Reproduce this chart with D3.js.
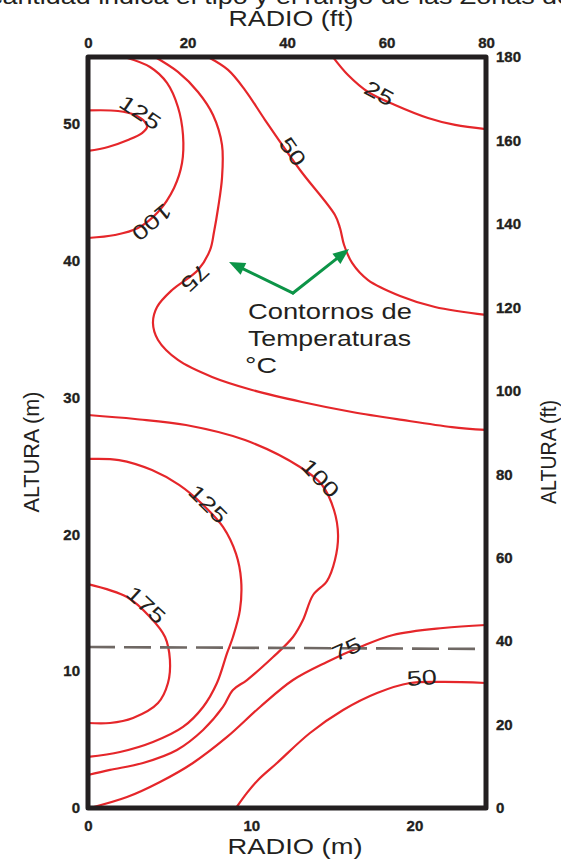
<!DOCTYPE html>
<html>
<head>
<meta charset="utf-8">
<script src="https://cdn.jsdelivr.net/npm/d3@7"></script>
<style>
  html, body { margin: 0; padding: 0; background: #fff; }
  svg { display: block; }
</style>
</head>
<body>
<svg id="chart" width="561" height="863"></svg>
<script>
// ---- axis ticks ----
const radiusTicksM  = [0, 10, 20];
const radiusTicksFt = [0, 20, 40, 60, 80];
const heightTicksM  = [0, 10, 20, 30, 40, 50];
const heightTicksFt = [0, 20, 40, 60, 80, 100, 120, 140, 160, 180];

const FT = 0.3048;            // metres per foot
const radiusMaxFt = 80;
const heightMaxFt = 180;

// ---- isotherms (°C), points as [radius m, height m] ----
const iso125Top = [[0,50.96],[1.84,50.92],[2.88,50.63],[3.49,50.12],[3.62,49.75],[3.31,49.31],[2.45,48.80],[1.23,48.29],[0,48.00]];
const iso100Top = [[2.21,54.86],[3.80,54.13],[4.84,52.97],[5.51,51.21],[5.82,49.17],[5.76,47.12],[5.27,45.30],[4.29,43.54],[3.06,42.37],[1.65,41.86],[0,41.64]];
const iso75Top  = [[4.11,54.86],[5.51,53.77],[6.74,52.31],[7.66,50.63],[8.21,48.44],[8.21,46.03],[7.97,43.83],[7.72,42.08],[7.48,40.77],[6.74,39.30],[5.15,37.84],[4.23,36.60],[3.98,35.43],[4.29,34.19],[5.51,32.73],[7.60,31.49],[10.05,30.54],[13.11,29.66],[16.18,28.93],[19.24,28.35],[22.30,27.83],[24.38,27.62]];
const iso50Top  = [[7.35,54.86],[8.58,53.92],[9.62,52.45],[10.85,50.26],[12.99,46.61],[15.13,43.32],[15.44,42.37],[15.69,41.13],[16.18,39.82],[17.16,38.57],[19.12,37.41],[21.26,36.60],[24.38,36.02]];
const iso25     = [[15.01,54.86],[15.93,53.55],[17.16,52.31],[18.81,51.36],[20.83,50.41],[22.49,49.90],[24.38,49.60]];
const iso100Low = [[0,28.71],[2.88,28.42],[6.00,27.98],[9.62,26.88],[12.99,24.91],[14.34,23.60],[15.07,21.77],[15.32,19.94],[15.13,18.12],[14.64,16.58],[13.79,15.56],[13.17,13.73],[12.56,12.49],[11.34,11.03],[9.74,9.35],[8.88,8.62],[8.27,7.38],[7.05,5.70],[5.45,4.24],[3.37,3.29],[1.35,2.78],[0,2.41]];
const iso125Low = [[0,25.50],[1.90,25.42],[3.92,24.69],[5.58,23.60],[6.99,22.21],[8.27,20.53],[9.07,18.56],[9.38,16.66],[9.31,14.47],[8.88,12.49],[8.52,11.32],[7.90,9.13],[7.05,7.38],[5.82,5.92],[3.98,4.82],[1.96,4.09],[0,3.73]];
const iso175    = [[0,16.36],[2.39,15.41],[3.80,13.95],[4.72,12.49],[5.02,10.81],[4.90,9.13],[4.29,7.67],[2.76,6.58],[1.35,6.21],[0,6.21]];
const iso75Low  = [[0.12,0],[2.39,0.80],[4.41,1.90],[6.43,3.29],[8.52,5.19],[10.54,7.38],[12.56,9.35],[14.64,10.67],[16.67,11.76],[18.69,12.64],[21.75,13.15],[24.38,13.37]];
const iso50Low  = [[9.07,0],[9.74,1.10],[10.42,2.05],[11.58,3.29],[13.60,5.48],[15.63,7.16],[17.71,8.40],[19.73,9.13],[21.75,9.21],[24.38,9.13]];

// contour value labels: level, the line it sits on, and where along it
const contourLabels = [
  { level: 125, line: iso125Top, r: 3.06,  h: 50.55 },
  { level: 100, line: iso100Top, r: 3.74,  h: 43.03 },
  { level: 75,  line: iso75Top,  r: 6.37,  h: 38.94 },
  { level: 50,  line: iso50Top,  r: 12.32, h: 47.78 },
  { level: 25,  line: iso25,     r: 17.71, h: 51.94 },
  { level: 100, line: iso100Low, r: 14.03, h: 23.89 },
  { level: 125, line: iso125Low, r: 7.17,  h: 21.99 },
  { level: 175, line: iso175,    r: 3.37,  h: 14.61 },
  { level: 75,  line: iso75Low,  r: 15.93, h: 11.32 },
  { level: 50,  line: iso50Low,  r: 20.47, h: 9.20 }
];

// horizontal reference level (dashed), [radius m, height m]
const referenceLevel = [[0, 11.76], [24.384, 11.62]];

// callout arrows pointing at two isotherms
const calloutVertex = [12.56, 37.62];
const calloutTips   = [[8.64, 39.89], [15.99, 40.84]];
const calloutText   = ["Contornos de", "Temperaturas", "°C"];

// ---- layout ----
const box = { left: 88, right: 486, top: 57, bottom: 808 };
const ink = "#231f20";
const red = "#e5262a";
const green = "#0c9447";

const x   = d3.scaleLinear().domain([0, radiusMaxFt * FT]).range([box.left, box.right]);
const y   = d3.scaleLinear().domain([0, heightMaxFt * FT]).range([box.bottom, box.top]);
const xFt = d3.scaleLinear().domain([0, radiusMaxFt]).range([box.left, box.right]);
const yFt = d3.scaleLinear().domain([0, heightMaxFt]).range([box.bottom, box.top]);

const svg = d3.select("#chart");
const font = "'Liberation Sans', Arial, sans-serif";

// running text of the page above the figure (cut by the top edge)
svg.append("text")
  .attr("x", -11).attr("y", 4)
  .attr("textLength", 583).attr("lengthAdjust", "spacingAndGlyphs")
  .style("font-family", font).style("font-size", "22px").attr("fill", ink)
  .text("cantidad indica el tipo y el rango de las Zonas de");

// ---- isotherm lines ----
const isotherms = [iso125Top, iso100Top, iso75Top, iso50Top, iso25,
                   iso100Low, iso125Low, iso175, iso75Low, iso50Low];
const line = d3.line()
  .x(d => x(d[0])).y(d => y(d[1]))
  .curve(d3.curveCatmullRom.alpha(0.5));

svg.append("g").selectAll("path")
  .data(isotherms).join("path")
  .attr("d", line)
  .attr("fill", "none")
  .attr("stroke", red)
  .attr("stroke-width", 2.2);

// dashed reference level
svg.append("path")
  .attr("d", d3.line().x(d => x(d[0])).y(d => y(d[1]))(referenceLevel))
  .attr("fill", "none")
  .attr("stroke", "#6f6864")
  .attr("stroke-width", 2.6)
  .attr("stroke-dasharray", "27,9");

// frame
svg.append("rect")
  .attr("x", box.left).attr("y", box.top)
  .attr("width", box.right - box.left).attr("height", box.bottom - box.top)
  .attr("fill", "none").attr("stroke", ink)
  .attr("stroke-width", 5).attr("stroke-linejoin", "round");

// ---- axes ----
function styleAxis(g) {
  g.select(".domain").remove();
  g.selectAll("line").remove();
  g.selectAll("text")
    .style("font-family", font)
    .style("font-size", "15px")
    .style("font-weight", "bold")
    .attr("fill", ink)
    .attr("stroke", ink)
    .attr("stroke-width", 0.35);
}
svg.append("g").attr("transform", `translate(0,${box.bottom})`)
  .call(d3.axisBottom(x).tickValues(radiusTicksM).tickSize(0).tickPadding(12).tickFormat(d3.format("d")))
  .call(styleAxis);
svg.append("g").attr("transform", `translate(0,${box.top})`)
  .call(d3.axisTop(xFt).tickValues(radiusTicksFt).tickSize(0).tickPadding(9).tickFormat(d3.format("d")))
  .call(styleAxis);
svg.append("g").attr("transform", `translate(${box.left},0)`)
  .call(d3.axisLeft(y).tickValues(heightTicksM).tickSize(0).tickPadding(8).tickFormat(d3.format("d")))
  .call(styleAxis);
svg.append("g").attr("transform", `translate(${box.right},0)`)
  .call(d3.axisRight(yFt).tickValues(heightTicksFt).tickSize(0).tickPadding(10).tickFormat(d3.format("d")))
  .call(styleAxis);

// ---- axis titles ----
function title(txt, tx, ty, rot, len) {
  svg.append("text")
    .attr("transform", `translate(${tx},${ty}) rotate(${rot})`)
    .attr("text-anchor", "middle")
    .attr("textLength", len).attr("lengthAdjust", "spacingAndGlyphs")
    .style("font-family", font).style("font-size", "22px")
    .attr("fill", ink)
    .text(txt);
}
title("RADIO (ft)", 291, 26, 0, 125);
title("RADIO (m)", 295, 854, 0, 135);
title("ALTURA (m)", 39, 452, -90, 121);
title("ALTURA (ft)", 556, 452, -90, 104);

// ---- contour value labels, turned along their line ----
function pathLength(pts) {
  let acc = 0;
  for (let i = 0; i < pts.length - 1; i++) acc += Math.hypot(pts[i+1][0]-pts[i][0], pts[i+1][1]-pts[i][1]);
  return acc;
}
function pointAt(pts, s) {
  let acc = 0;
  for (let i = 0; i < pts.length - 1; i++) {
    const [x0, y0] = pts[i], [x1, y1] = pts[i+1];
    const L = Math.hypot(x1 - x0, y1 - y0);
    if (acc + L >= s) { const t = L ? (s - acc) / L : 0; return [x0 + t*(x1-x0), y0 + t*(y1-y0)]; }
    acc += L;
  }
  return pts[pts.length - 1];
}
function project(pts, p) {
  let acc = 0, best = Infinity, bestS = 0;
  for (let i = 0; i < pts.length - 1; i++) {
    const [x0, y0] = pts[i], [x1, y1] = pts[i+1];
    const dx = x1 - x0, dy = y1 - y0, L2 = dx*dx + dy*dy, L = Math.sqrt(L2);
    let t = L2 ? ((p[0]-x0)*dx + (p[1]-y0)*dy) / L2 : 0;
    t = Math.max(0, Math.min(1, t));
    const d = Math.hypot(x0 + t*dx - p[0], y0 + t*dy - p[1]);
    if (d < best) { best = d; bestS = acc + t*L; }
    acc += L;
  }
  return bestS;
}
const labelLayer = svg.append("g");
contourLabels.forEach(lb => {
  const pts = lb.line.map(d => [x(d[0]), y(d[1])]);
  const total = pathLength(pts);
  const s = project(pts, [x(lb.r), y(lb.h)]);
  const a = pointAt(pts, Math.max(0, s - 16));
  const b = pointAt(pts, Math.min(total, s + 16));
  const ang = Math.atan2(b[1] - a[1], b[0] - a[0]) * 180 / Math.PI;
  const [px, py] = [x(lb.r), y(lb.h)];
  const digits = String(lb.level).length;
  labelLayer.append("text")
    .attr("transform", `translate(${px},${py}) rotate(${ang})`)
    .attr("text-anchor", "middle")
    .attr("dy", 3)
    .attr("textLength", 15 * digits).attr("lengthAdjust", "spacingAndGlyphs")
    .style("font-family", font).style("font-size", "21px")
    .attr("fill", ink)
    .text(lb.level);
});

// ---- callout ----
const vx = x(calloutVertex[0]), vy = y(calloutVertex[1]);
const callout = svg.append("g");
calloutTips.forEach(t => {
  const tx = x(t[0]), ty = y(t[1]);
  const ang = Math.atan2(ty - vy, tx - vx);
  const headLen = 16, headHalf = 6.5;
  const bx = tx - headLen * Math.cos(ang), by = ty - headLen * Math.sin(ang);
  callout.append("line")
    .attr("x1", vx).attr("y1", vy).attr("x2", bx + 2 * Math.cos(ang)).attr("y2", by + 2 * Math.sin(ang))
    .attr("stroke", green).attr("stroke-width", 3).attr("stroke-linecap", "round");
  const nx = -Math.sin(ang), ny = Math.cos(ang);
  callout.append("path")
    .attr("d", `M${tx},${ty}L${bx + nx*headHalf},${by + ny*headHalf}L${bx - nx*headHalf},${by - ny*headHalf}Z`)
    .attr("fill", green);
});
const calloutLengths = [164, 163, 32];
calloutText.forEach((t, i) => {
  svg.append("text")
    .attr("x", vx - 45 + (i === 2 ? -3 : 0)).attr("y", vy + 26 + i * 27)
    .attr("textLength", calloutLengths[i]).attr("lengthAdjust", "spacingAndGlyphs")
    .style("font-family", font).style("font-size", "22px")
    .attr("fill", ink)
    .text(t);
});
</script>
</body>
</html>
